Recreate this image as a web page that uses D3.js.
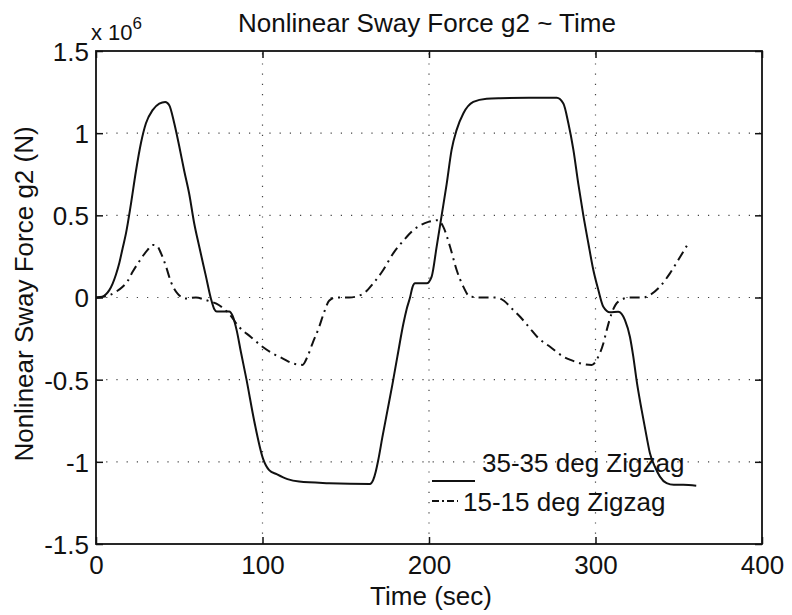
<!DOCTYPE html>
<html>
<head>
<meta charset="utf-8">
<script src="https://cdn.jsdelivr.net/npm/d3@7"></script>
<style>
  html, body { margin: 0; padding: 0; background: #fff; }
  text { font-family: "Liberation Sans", Arial, Helvetica, sans-serif; fill: #111; }
</style>
</head>
<body>
<svg id="chart" width="792" height="615"></svg>
<script>
// ---- data (force in units of 1e6 N) ----
const t35 = [0, 3, 6, 8, 10, 12, 14, 16, 18, 21, 24, 27, 30, 34, 38, 41.6, 44, 47, 50, 53, 56, 59, 62, 66, 69, 71, 72.5, 76, 80, 82, 84.5, 87, 90.4, 95, 100.3, 104, 108.5, 115, 122, 140, 164.5, 166.5, 168, 169.5, 172, 175, 178, 181, 184.6, 186.6, 188.6, 190, 191.6, 198.6, 201.6, 204.6, 207.6, 210.6, 213.6, 216.6, 220.6, 226.6, 234.6, 242.6, 260, 276.7, 280.7, 283.7, 286.7, 289.7, 292.7, 295.7, 298.7, 301.7, 304.7, 308.7, 313.7, 317.7, 320.7, 322.7, 324.7, 327.7, 330.7, 332.7, 335.7, 338.7, 342.7, 347, 352.7, 360.5];
const g35 = [0, 0.002, 0.02, 0.045, 0.085, 0.14, 0.21, 0.3, 0.39, 0.57, 0.77, 0.94, 1.06, 1.14, 1.18, 1.19, 1.17, 1.06, 0.92, 0.77, 0.63, 0.45, 0.31, 0.13, -0.006, -0.07, -0.085, -0.085, -0.085, -0.11, -0.2, -0.33, -0.5, -0.75, -0.98, -1.05, -1.075, -1.105, -1.12, -1.13, -1.135, -1.11, -1.06, -0.99, -0.85, -0.69, -0.53, -0.36, -0.16, -0.07, 0.0, 0.06, 0.086, 0.086, 0.127, 0.31, 0.5, 0.69, 0.9, 1.02, 1.12, 1.19, 1.21, 1.213, 1.215, 1.215, 1.18, 1.06, 0.9, 0.69, 0.5, 0.33, 0.167, 0.046, -0.056, -0.09, -0.086, -0.137, -0.24, -0.36, -0.506, -0.684, -0.847, -0.948, -1.03, -1.09, -1.13, -1.14, -1.14, -1.145];

const t15 = [0, 4, 8, 12, 16, 19, 22, 26, 31, 34, 36.5, 39, 42, 45, 49, 54, 60, 66, 74, 80, 86, 93, 100, 106, 112, 118, 124, 127, 130, 134, 137, 140, 144, 152, 160, 166.5, 172, 178.6, 185, 190.6, 195, 199.6, 205.6, 208.6, 212.6, 216.6, 220.6, 224.6, 232.6, 240.6, 245, 250, 255, 260, 266, 272.7, 280.7, 285, 290.7, 297.7, 301.7, 304.7, 306.7, 309.7, 313.7, 320.7, 328.7, 332.7, 338.7, 344.7, 349.7, 355.7];
const g15 = [0, 0.004, 0.014, 0.035, 0.065, 0.1, 0.156, 0.22, 0.29, 0.32, 0.315, 0.27, 0.19, 0.095, 0.024, -0.006, 0, -0.016, -0.047, -0.1, -0.18, -0.24, -0.3, -0.34, -0.37, -0.4, -0.41, -0.36, -0.28, -0.18, -0.09, -0.02, 0, 0, 0.02, 0.086, 0.16, 0.27, 0.35, 0.41, 0.44, 0.46, 0.47, 0.43, 0.31, 0.167, 0.066, 0.005, 0, 0, -0.02, -0.07, -0.12, -0.18, -0.25, -0.3, -0.36, -0.38, -0.4, -0.41, -0.36, -0.28, -0.2, -0.096, -0.025, 0, 0, 0.015, 0.066, 0.147, 0.228, 0.33];

const xTicks = [0, 100, 200, 300, 400];
const yTicks = [-1.5, -1, -0.5, 0, 0.5, 1, 1.5];
const yTickLabels = ["-1.5", "-1", "-0.5", "0", "0.5", "1", "1.5"];
const seriesNames = ["35-35 deg Zigzag", "15-15 deg Zigzag"];
const titleText = "Nonlinear Sway Force g2 ~ Time";
const xLabel = "Time (sec)";
const yLabel = "Nonlinear Sway Force g2 (N)";

// ---- layout ----
const svg = d3.select("#chart");
const L = 96, R = 762, T = 51, B = 544;
const x = d3.scaleLinear().domain([0, 400]).range([L, R]);
const y = d3.scaleLinear().domain([-1.5, 1.5]).range([B, T]);
const FS = 26;
const dashDot = "10,5,2,5";

// grid (dotted)
const grid = svg.append("g").attr("stroke", "#444").attr("stroke-width", 1.2)
  .attr("stroke-dasharray", "1.2,9").attr("fill", "none");
xTicks.filter(d => d > 0 && d < 400).forEach(d => {
  grid.append("line").attr("x1", x(d)).attr("x2", x(d)).attr("y1", B).attr("y2", T);
});
yTicks.filter(d => d > -1.5 && d < 1.5).forEach(d => {
  grid.append("line").attr("x1", L).attr("x2", R).attr("y1", y(d)).attr("y2", y(d));
});

// axes via d3 axis generators (ticks inward)
const tickLen = 7;
const axB = svg.append("g").attr("transform", `translate(0,${B})`)
  .call(d3.axisBottom(x).tickValues(xTicks).tickSizeInner(-tickLen).tickSizeOuter(0).tickPadding(12).tickFormat(d3.format("d")));
const axL = svg.append("g").attr("transform", `translate(${L},0)`)
  .call(d3.axisLeft(y).tickValues(yTicks).tickSizeInner(-tickLen).tickSizeOuter(0).tickPadding(14).tickFormat((d, i) => yTickLabels[i]));
const axT = svg.append("g").attr("transform", `translate(0,${T})`)
  .call(d3.axisTop(x).tickValues(xTicks).tickSizeInner(-tickLen).tickSizeOuter(0).tickFormat(""));
const axR = svg.append("g").attr("transform", `translate(${R},0)`)
  .call(d3.axisRight(y).tickValues(yTicks).tickSizeInner(-tickLen).tickSizeOuter(0).tickFormat(""));
[axB, axL, axT, axR].forEach(a => {
  a.select(".domain").remove();
  a.selectAll(".tick line").attr("stroke", "#111").attr("stroke-width", 1.5);
  a.selectAll("text").attr("font-size", FS).attr("font-family", "Liberation Sans, Arial, sans-serif").attr("fill", "#111");
});
axB.selectAll("text").attr("dy", "0.71em");
axL.selectAll("text").attr("dx", "7").attr("dy", "0.36em");

// box
svg.append("rect").attr("x", L).attr("y", T).attr("width", R - L).attr("height", B - T)
  .attr("fill", "none").attr("stroke", "#111").attr("stroke-width", 1.8);

// exponent label
const ex = svg.append("text").attr("x", 91).attr("y", 40).attr("font-size", 22);
ex.append("tspan").text("x 10");
ex.append("tspan").attr("font-size", 17).attr("dy", -11).text("6");

// lines
const line = d3.line().x(d => x(d[0])).y(d => y(d[1])).curve(d3.curveMonotoneX);
const d35 = t35.map((t, i) => [t, g35[i]]);
const d15 = t15.map((t, i) => [t, g15[i]]);
svg.append("path").datum(d35).attr("d", line).attr("fill", "none")
  .attr("stroke", "#111").attr("stroke-width", 2);
svg.append("path").datum(d15).attr("d", line).attr("fill", "none")
  .attr("stroke", "#111").attr("stroke-width", 2).attr("stroke-dasharray", dashDot);

// title and axis labels
svg.append("text").attr("x", 427).attr("y", 32).attr("text-anchor", "middle").attr("font-size", FS).text(titleText);
svg.append("text").attr("x", 431).attr("y", 605).attr("text-anchor", "middle").attr("font-size", FS).text(xLabel);
svg.append("text").attr("transform", `translate(33,294) rotate(-90)`).attr("text-anchor", "middle").attr("font-size", FS).text(yLabel);

// legend (no box)
svg.append("line").attr("x1", 432).attr("x2", 475).attr("y1", 481).attr("y2", 481)
  .attr("stroke", "#111").attr("stroke-width", 2);
svg.append("text").attr("x", 482).attr("y", 472).attr("font-size", FS).text(seriesNames[0]);
svg.append("line").attr("x1", 432).attr("x2", 458).attr("y1", 501).attr("y2", 501)
  .attr("stroke", "#111").attr("stroke-width", 2).attr("stroke-dasharray", "7,3,2,3");
svg.append("text").attr("x", 463).attr("y", 511).attr("font-size", FS).text(seriesNames[1]);
</script>
</body>
</html>
